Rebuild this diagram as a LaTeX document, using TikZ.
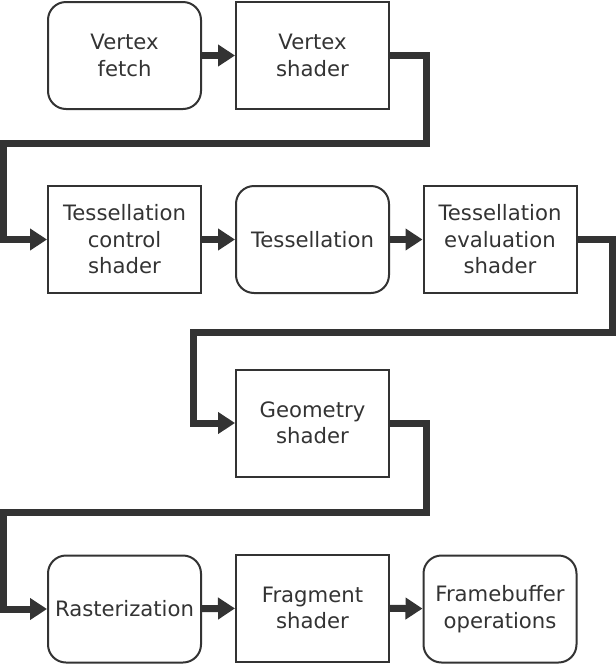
\documentclass[tikz,border=0pt]{standalone}
\usepackage{fontspec}
\setmainfont{DejaVu Sans}
\usetikzlibrary{arrows.meta}
\definecolor{ink}{HTML}{333333}
\begin{document}
\begin{tikzpicture}[x=1pt,y=-1pt,
  stage/.style={draw=ink, line width=2pt, minimum width=153pt, minimum height=107pt,
    inner sep=0pt, align=center, text=ink, font=\fontsize{21.2}{26.5}\selectfont},
  fixedstage/.style={stage},
  roundstage/.style={stage, rounded corners=18pt},
  conn/.style={draw=ink, line width=7pt, line join=miter,
    -{Triangle[length=17pt,width=21pt]}}]
\useasboundingbox (0,0) rectangle (616,665);
% row 1
\node[roundstage] (vf) at (124.5,55.5) {Vertex\\fetch};
\node[fixedstage] (vs) at (312.5,55.5) {Vertex\\shader};
% row 2
\node[fixedstage] (tc) at (124.5,239.5) {Tessellation\\control\\shader};
\node[roundstage] (ts) at (312.5,239.5) {Tessellation};
\node[fixedstage] (te) at (500,239.5) {Tessellation\\evaluation\\shader};
% row 3
\node[fixedstage] (gs) at (312.5,423) {Geometry\\shader};
% row 4
\node[roundstage] (ra) at (124.5,609) {Rasterization};
\node[fixedstage] (fs) at (312.5,608) {Fragment\\shader};
\node[roundstage] (fb) at (500,609) {Framebuffer\\operations};
% bends
\coordinate (k1) at (426,143.5);
\coordinate (k2) at (3.5,143.5);
\coordinate (k3) at (612.5,332);
\coordinate (k4) at (193,332);
\coordinate (k5) at (426.5,512);
\coordinate (k6) at (3.5,512);
% connectors
\draw[conn] (vf) -- (vs);
\draw[conn] (vs.east) -| (k1) -| (k2) |- (tc.west);
\draw[conn] (tc) -- (ts);
\draw[conn] (ts) -- (te);
\draw[conn] (te.east) -| (k3) -| (k4) |- (gs.west);
\draw[conn] (gs.east) -| (k5) -| (k6) |- (ra.west);
\draw[conn] (ra) -- (fs);
\draw[conn] (fs) -- (fb);
\end{tikzpicture}
\end{document}
